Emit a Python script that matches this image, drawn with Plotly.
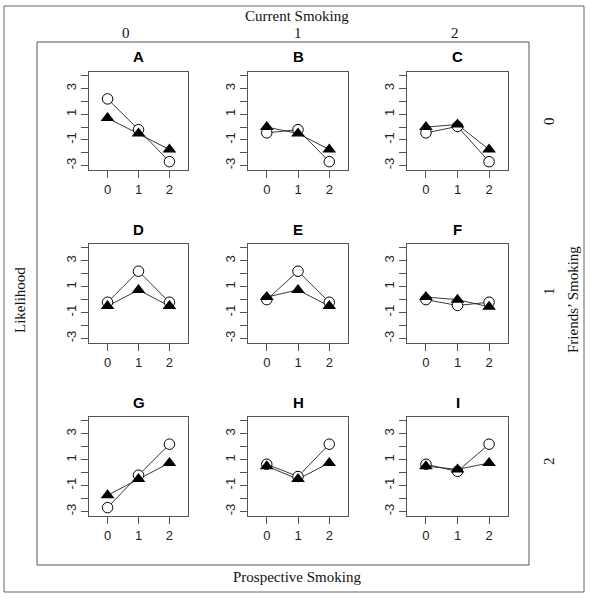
import plotly.graph_objects as go

W, H = 590, 599

panel_letters = ["A", "B", "C", "D", "E", "F", "G", "H", "I"]
x_levels = [0, 1, 2]
open_circle = [
    [2.2, -0.2, -2.7],
    [-0.45, -0.2, -2.7],
    [-0.45, 0.05, -2.7],
    [-0.2, 2.2, -0.2],
    [0.0, 2.2, -0.2],
    [0.0, -0.45, -0.2],
    [-2.7, -0.2, 2.2],
    [0.65, -0.3, 2.2],
    [0.65, 0.1, 2.2],
]
filled_triangle = [
    [0.7, -0.5, -1.75],
    [0.0, -0.5, -1.75],
    [0.0, 0.2, -1.75],
    [-0.5, 0.75, -0.5],
    [0.2, 0.75, -0.5],
    [0.2, 0.0, -0.55],
    [-1.75, -0.5, 0.75],
    [0.5, -0.5, 0.75],
    [0.5, 0.25, 0.75],
]
col_labels = ["0", "1", "2"]
row_labels = ["0", "1", "2"]
y_tickvals = [-3, -2, -1, 0, 1, 2, 3, 4]
y_ticktext = ["-3", "", "-1", "", "1", "", "3", ""]

col_px = [(89, 188), (248, 348), (407, 508)]
row_px = [(72, 170), (244, 343), (417, 516)]

def fx(px):
    return px / W

def fy(py):
    return 1 - py / H

fig = go.Figure()
layout = dict(
    width=W, height=H, margin=dict(l=0, r=0, t=0, b=0),
    paper_bgcolor="white", plot_bgcolor="white", showlegend=False,
)
annotations = []
axcol = "#555555"
tickfont = dict(family="Liberation Sans, Arial", size=13, color="#222222")
serif = dict(family="Liberation Serif, Times New Roman", size=15, color="#111111")

def note(text, px, py, font, angle=0):
    return dict(text=text, x=fx(px), y=fy(py), xref="paper", yref="paper",
                xanchor="center", yanchor="middle", showarrow=False,
                textangle=angle, font=font)

for i in range(9):
    r, c = divmod(i, 3)
    n = "" if i == 0 else str(i + 1)
    xa, ya = "x" + n, "y" + n
    for vals in (open_circle[i], filled_triangle[i]):
        fig.add_trace(go.Scatter(x=x_levels, y=vals, mode="lines", xaxis=xa, yaxis=ya,
                                 line=dict(color="#222222", width=0.9), hoverinfo="skip"))
    fig.add_trace(go.Scatter(x=x_levels, y=open_circle[i], mode="markers", xaxis=xa, yaxis=ya,
                             marker=dict(symbol="circle", size=10.5, color="white",
                                         line=dict(color="black", width=1))))
    fig.add_trace(go.Scatter(x=x_levels, y=filled_triangle[i], mode="markers", xaxis=xa, yaxis=ya,
                             marker=dict(symbol="triangle-up", size=12, color="black",
                                         line=dict(color="black", width=0))))
    x0, x1 = col_px[c]
    y0, y1 = row_px[r]
    layout["xaxis" + n] = dict(
        domain=[fx(x0), fx(x1)], range=[-0.6, 2.6], anchor=ya,
        tickvals=x_levels, ticktext=[str(v) for v in x_levels],
        ticks="outside", ticklen=7, tickcolor=axcol, tickfont=tickfont,
        showline=True, mirror=True, linecolor=axcol, linewidth=1,
        showgrid=False, zeroline=False, fixedrange=True,
    )
    layout["yaxis" + n] = dict(
        domain=[fy(y1), fy(y0)], range=[-3.35, 4.3], anchor=xa,
        tickvals=y_tickvals, ticktext=y_ticktext, tickangle=-90,
        ticks="outside", ticklen=7, tickcolor=axcol, tickfont=tickfont,
        showline=True, mirror=True, linecolor=axcol, linewidth=1,
        showgrid=False, zeroline=False, fixedrange=True,
    )
    annotations.append(note("<b>" + panel_letters[i] + "</b>", (x0 + x1) / 2, y0 - 15,
                            dict(family="Liberation Sans, Arial", size=15, color="black")))

annotations.append(note("Current Smoking", 297, 16, serif))
for lab, px in zip(col_labels, [126, 298, 455]):
    annotations.append(note(lab, px, 33, serif))
annotations.append(note("Prospective Smoking", 297, 577, serif))
annotations.append(note("Likelihood", 20, 300, serif, -90))
for lab, py in zip(row_labels, [121, 291, 461]):
    annotations.append(note(lab, 549, py, serif, -90))
annotations.append(note("Friends\u2019 Smoking", 573, 300, serif, -90))

shapes = [
    dict(type="rect", xref="paper", yref="paper", x0=fx(4), x1=fx(584), y0=fy(592), y1=fy(6),
         line=dict(color="#666666", width=1)),
    dict(type="rect", xref="paper", yref="paper", x0=fx(37), x1=fx(529), y0=fy(565), y1=fy(42),
         line=dict(color="#555555", width=1)),
]
layout["annotations"] = annotations
layout["shapes"] = shapes
fig.update_layout(**layout)
fig.write_html(
    "out.html",
    config={"displayModeBar": False},
    post_script="document.body.style.margin='0';document.body.style.padding='0';document.body.style.overflow='hidden';",
)
